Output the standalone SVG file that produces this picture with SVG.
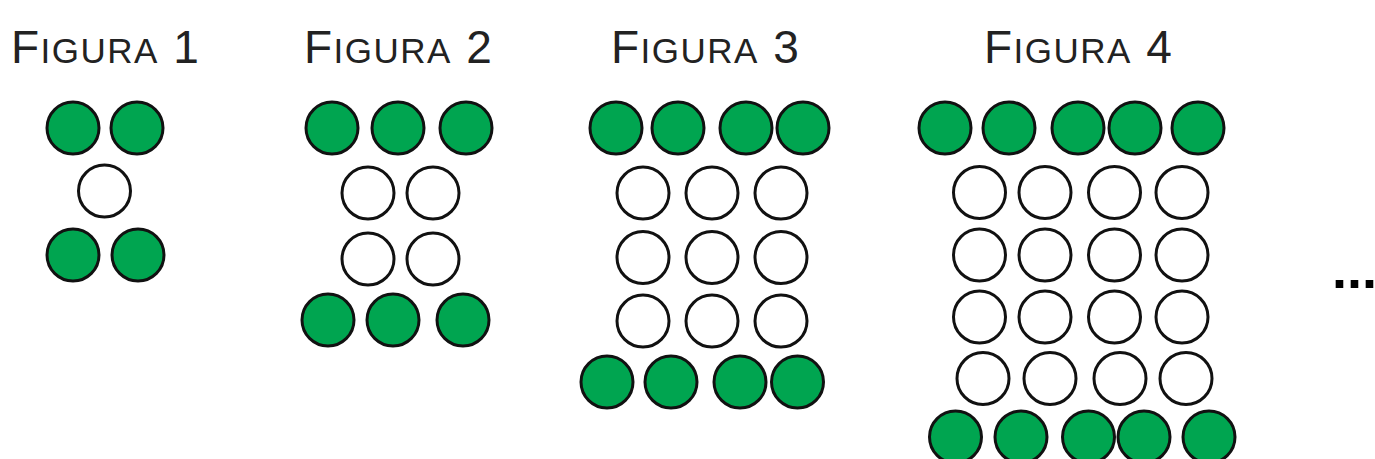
<svg xmlns="http://www.w3.org/2000/svg" width="1375" height="459" viewBox="0 0 1375 459">
<style>
.g{fill:#00a550;stroke:#111;stroke-width:3}
.w{fill:#fff;stroke:#111;stroke-width:3}
.t{font-family:"Liberation Sans",Arial,sans-serif;fill:#222;letter-spacing:1.5px}
.big{font-size:46px}
.sc{font-size:35px}
.dots{font-family:"Liberation Sans",Arial,sans-serif;font-weight:bold;font-size:54px;fill:#000}
</style>
<rect width="1375" height="459" fill="#fff"/>
<g id="figura1">
<text class="t" x="11" y="63"><tspan class="big">F</tspan><tspan class="sc">IGURA</tspan><tspan class="big"> 1</tspan></text>
<circle class="g" cx="73" cy="128" r="26"/><circle class="g" cx="137" cy="128" r="26"/>
<circle class="w" cx="104.5" cy="191" r="26"/>
<circle class="g" cx="73" cy="255" r="26"/><circle class="g" cx="138" cy="255" r="26"/>
</g>
<g id="figura2">
<text class="t" x="304" y="63"><tspan class="big">F</tspan><tspan class="sc">IGURA</tspan><tspan class="big"> 2</tspan></text>
<circle class="g" cx="332" cy="128" r="26"/><circle class="g" cx="398" cy="128" r="26"/><circle class="g" cx="466" cy="128" r="26"/>
<circle class="w" cx="368" cy="193" r="26"/><circle class="w" cx="433" cy="193" r="26"/>
<circle class="w" cx="368" cy="259" r="26"/><circle class="w" cx="433" cy="259" r="26"/>
<circle class="g" cx="328" cy="320" r="26"/><circle class="g" cx="393" cy="320" r="26"/><circle class="g" cx="463" cy="320" r="26"/>
</g>
<g id="figura3">
<text class="t" x="611" y="63"><tspan class="big">F</tspan><tspan class="sc">IGURA</tspan><tspan class="big"> 3</tspan></text>
<circle class="g" cx="616" cy="128" r="26"/><circle class="g" cx="678" cy="128" r="26"/><circle class="g" cx="746" cy="128" r="26"/><circle class="g" cx="803" cy="128" r="26"/>
<circle class="w" cx="643" cy="193" r="26"/><circle class="w" cx="712" cy="193" r="26"/><circle class="w" cx="781" cy="193" r="26"/>
<circle class="w" cx="643" cy="257.5" r="26"/><circle class="w" cx="712" cy="257.5" r="26"/><circle class="w" cx="781" cy="257.5" r="26"/>
<circle class="w" cx="643" cy="321" r="26"/><circle class="w" cx="712" cy="321" r="26"/><circle class="w" cx="781" cy="321" r="26"/>
<circle class="g" cx="607" cy="382" r="26"/><circle class="g" cx="671" cy="382" r="26"/><circle class="g" cx="740" cy="382" r="26"/><circle class="g" cx="797.5" cy="382" r="26"/>
</g>
<g id="figura4">
<text class="t" x="984" y="63"><tspan class="big">F</tspan><tspan class="sc">IGURA</tspan><tspan class="big"> 4</tspan></text>
<circle class="g" cx="945" cy="128" r="26"/><circle class="g" cx="1009" cy="128" r="26"/><circle class="g" cx="1078" cy="128" r="26"/><circle class="g" cx="1135" cy="128" r="26"/><circle class="g" cx="1198" cy="128" r="26"/>
<circle class="w" cx="979.5" cy="192.5" r="26"/><circle class="w" cx="1045" cy="192.5" r="26"/><circle class="w" cx="1114.5" cy="192.5" r="26"/><circle class="w" cx="1182" cy="192.5" r="26"/>
<circle class="w" cx="979.5" cy="255" r="26"/><circle class="w" cx="1045" cy="255" r="26"/><circle class="w" cx="1114.5" cy="255" r="26"/><circle class="w" cx="1182" cy="255" r="26"/>
<circle class="w" cx="979.5" cy="317" r="26"/><circle class="w" cx="1045" cy="317" r="26"/><circle class="w" cx="1114.5" cy="317" r="26"/><circle class="w" cx="1182" cy="317" r="26"/>
<circle class="w" cx="983" cy="378.5" r="26"/><circle class="w" cx="1050" cy="378.5" r="26"/><circle class="w" cx="1120" cy="378.5" r="26"/><circle class="w" cx="1186" cy="378.5" r="26"/>
<circle class="g" cx="955.5" cy="437" r="26"/><circle class="g" cx="1021" cy="437" r="26"/><circle class="g" cx="1088.5" cy="437" r="26"/><circle class="g" cx="1144" cy="437" r="26"/><circle class="g" cx="1209" cy="437" r="26"/>
</g>
<g id="ellipsis">
<text class="dots" x="1332" y="288">...</text>
</g>
</svg>
